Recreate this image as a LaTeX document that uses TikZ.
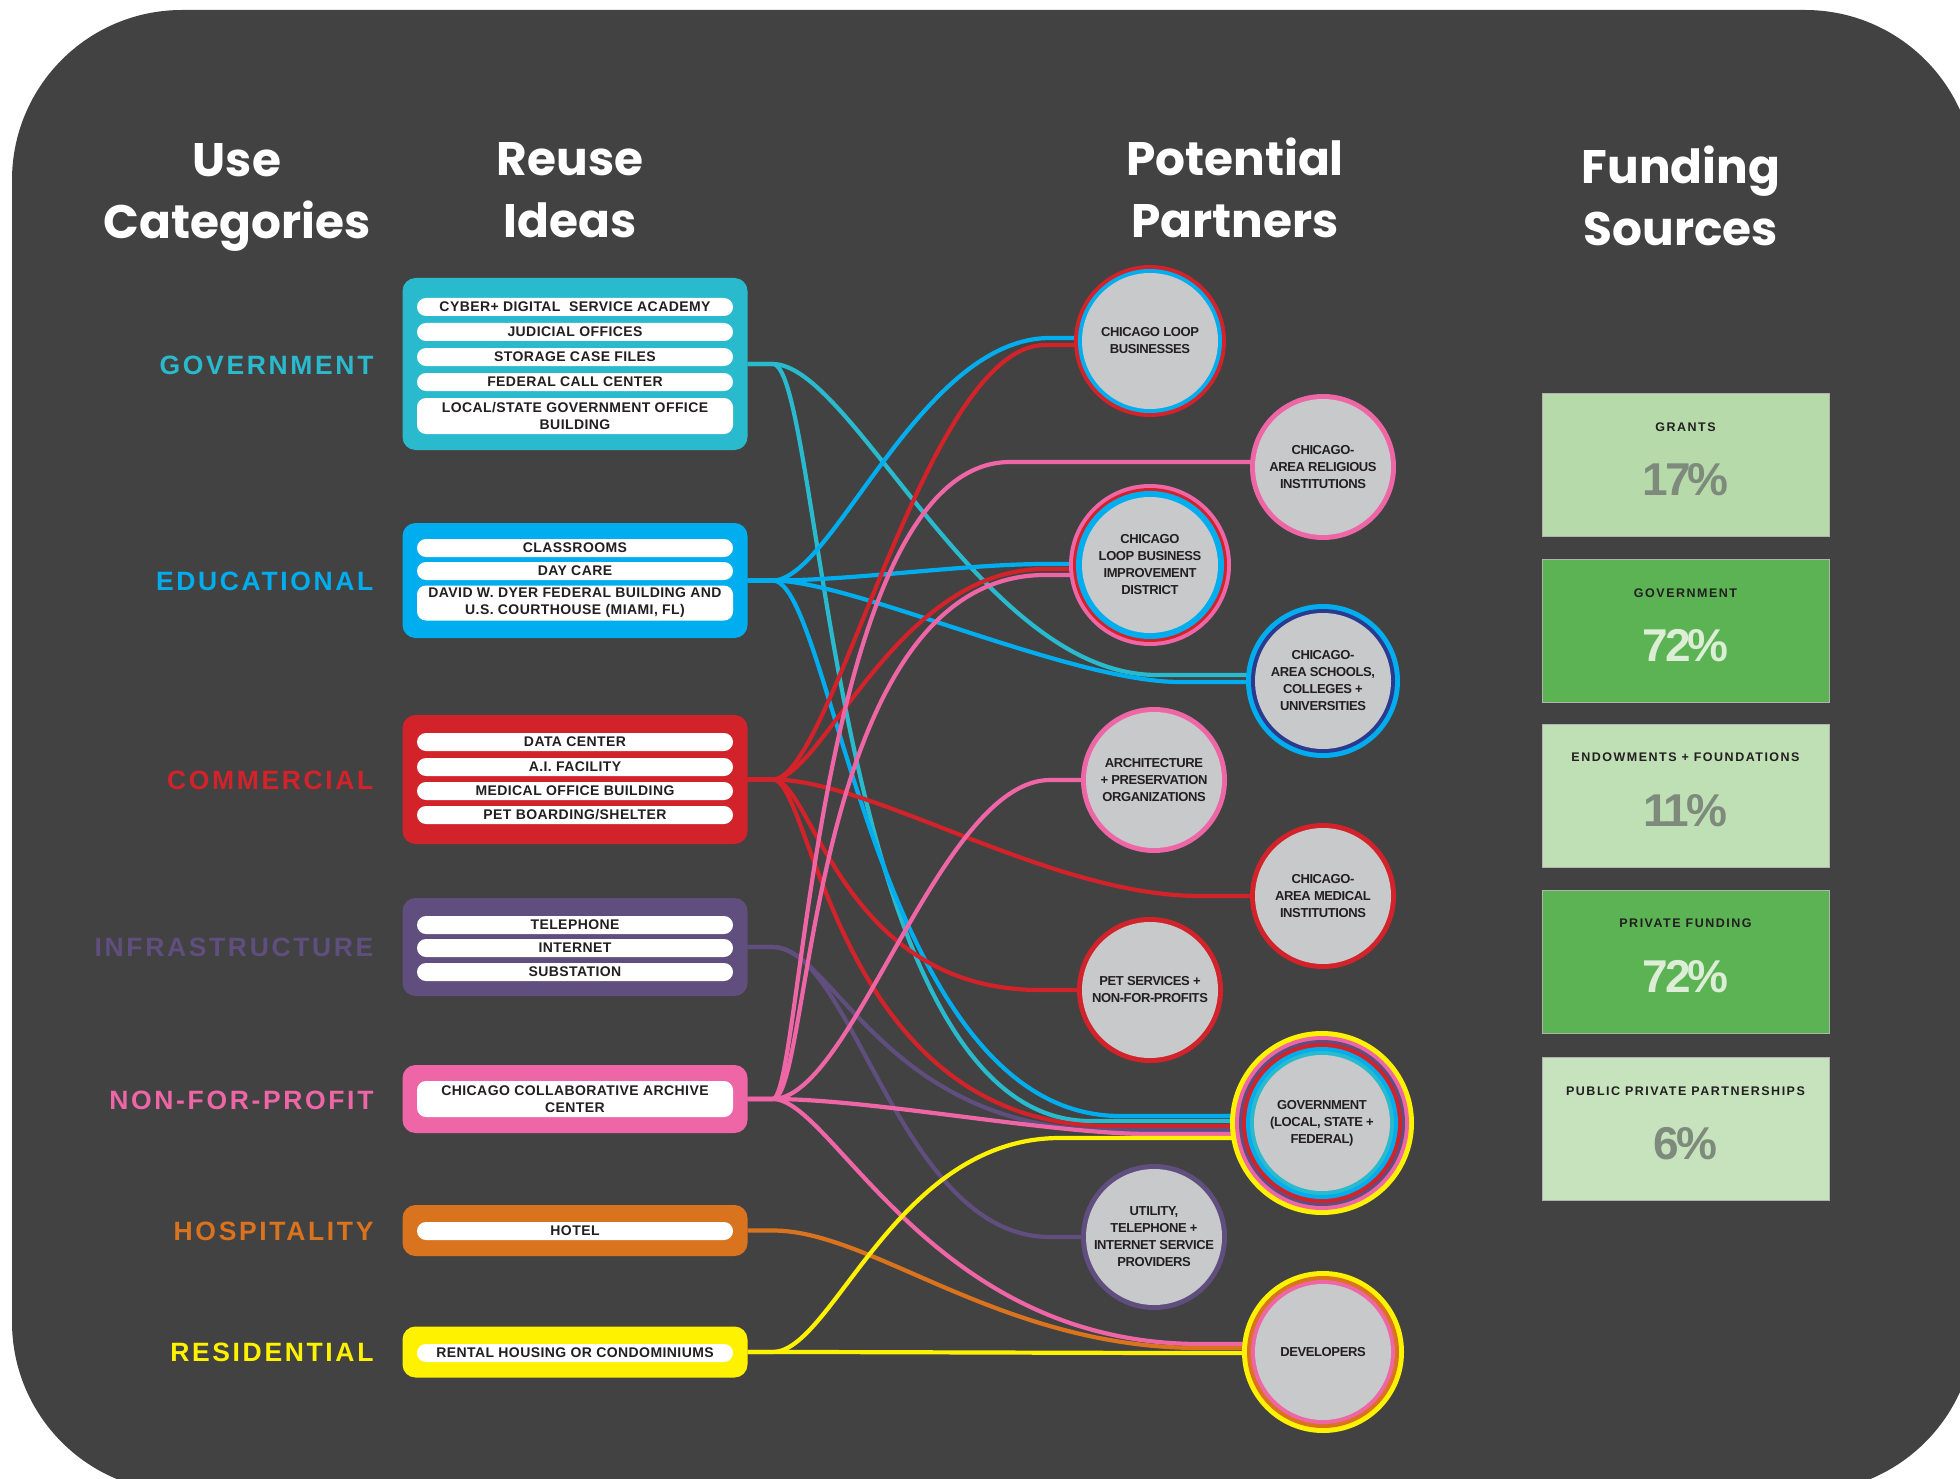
\documentclass[tikz,border=0pt]{standalone}
\usepackage{fontspec}
\setmainfont{Liberation Sans}
\newfontfamily\headfont{Poppins}
\newfontfamily\catfont[LetterSpace=10]{Liberation Sans}
\newfontfamily\pillfont[LetterSpace=3]{Liberation Sans}
\newfontfamily\partfont[LetterSpace=-3]{Liberation Sans}
\newfontfamily\fundfont[LetterSpace=12]{Liberation Sans}
\newfontfamily\pctfont[LetterSpace=-6]{Liberation Sans}
\usetikzlibrary{calc}
\definecolor{BgGray}{HTML}{424242}
\definecolor{cTeal}{HTML}{29BACD}
\definecolor{cBlue}{HTML}{00AEEF}
\definecolor{cRed}{HTML}{D2222A}
\definecolor{cPurple}{HTML}{604E7F}
\definecolor{cPink}{HTML}{EE66A6}
\definecolor{cOrange}{HTML}{DA731E}
\definecolor{cYellow}{HTML}{FFF200}
\definecolor{cNavy}{HTML}{2A3A8F}
\definecolor{DiscGray}{HTML}{C8C9CB}
\definecolor{InkDark}{HTML}{231F20}
\definecolor{fLightA}{HTML}{B6DAAA}
\definecolor{fLightB}{HTML}{BFDFB4}
\definecolor{fLightC}{HTML}{C7E3BE}
\definecolor{fGreen}{HTML}{5BB353}
\definecolor{pGray}{HTML}{7E8A7C}
\definecolor{pPale}{HTML}{DCEED6}
\pgfdeclarelayer{back}
\pgfdeclarelayer{links}
\pgfdeclarelayer{rings}
\pgfsetlayers{back,links,rings,main}

\begin{document}
\begin{tikzpicture}[x=1pt,y=-1pt,
    head/.style={font=\headfont\bfseries\fontsize{47}{62}\selectfont,text=white,align=center},
    cat/.style={anchor=east,font=\catfont\bfseries\fontsize{26.5}{28}\selectfont},
    usebox/.style={rounded corners=13pt,minimum width=345pt,inner sep=0pt},
    pill/.style={fill=white,rounded corners=9pt,minimum width=316pt,minimum height=18pt,inner sep=0pt,align=center,text=InkDark,font=\pillfont\bfseries\fontsize{14}{17}\selectfont},
    partner/.style={circle,fill=DiscGray,minimum size=136pt,inner sep=0pt,align=center,text=InkDark,font=\partfont\bfseries\fontsize{13}{17}\selectfont},
    fund/.style={minimum width=287pt,minimum height=143pt,inner sep=0pt,draw=black!30,line width=0.8pt},
    fundtitle/.style={font=\fundfont\bfseries\fontsize{12.5}{14}\selectfont,text=InkDark},
    pct/.style={font=\pctfont\bfseries\fontsize{46}{50}\selectfont},
    link/.style={line width=4.2pt}
  ]
    \useasboundingbox (0,0) rectangle (1960,1479);
    \begin{pgfonlayer}{back}
      \fill[white] (0,0) rectangle (1960,1479);
      \fill[BgGray,rounded corners=170pt] (12,10) rectangle (1975,1492);
    \end{pgfonlayer}

    \node[head] (hUse) at (237,197) {Use\\Categories};
    \node[head] (hReuse) at (570,190) {Reuse\\Ideas};
    \node[head] (hPartners) at (1235,188) {Potential\\Partners};
    \node[head] (hFunding) at (1681,196) {Funding\\Sources};

    \foreach \n/\y/\col/\t in {gov/365/cTeal/GOVERNMENT, edu/581/cBlue/EDUCATIONAL, com/780/cRed/COMMERCIAL, inf/947/cPurple/INFRASTRUCTURE, nfp/1100/cPink/NON-FOR-PROFIT, hos/1231/cOrange/HOSPITALITY, res/1352/cYellow/RESIDENTIAL}
      \node[cat,text=\col] (cat\n) at (377,\y) {\t};

    \foreach \n/\y/\h/\col in {govb/364/172/cTeal, edub/580.5/115/cBlue, comb/779.5/129/cRed, infb/947/98/cPurple, nfpb/1099/68/cPink, hosb/1230.5/51/cOrange, resb/1352/51/cYellow}
      \node[usebox,fill=\col,minimum height=\h pt] (\n) at (575,\y) {};

    \foreach \n/\y/\h/\t in {g1/307/18/{CYBER+ DIGITAL\ \ SERVICE ACADEMY}, g2/332/18/{JUDICIAL OFFICES}, g3/357/18/{STORAGE CASE FILES}, g4/382/18/{FEDERAL CALL CENTER}, g5/416/36/{LOCAL/STATE GOVERNMENT OFFICE\\BUILDING},
        e1/548/18/{CLASSROOMS}, e2/571/18/{DAY CARE}, e3/603/35/{DAVID W. DYER FEDERAL BUILDING AND\\U.S. COURTHOUSE (MIAMI, FL)},
        c1/742/18/{DATA CENTER}, c2/767/18/{A.I. FACILITY}, c3/791/18/{MEDICAL OFFICE BUILDING}, c4/815/18/{PET BOARDING/SHELTER},
        i1/925/18/{TELEPHONE}, i2/948/18/{INTERNET}, i3/972/18/{SUBSTATION},
        n1/1099/36/{CHICAGO COLLABORATIVE ARCHIVE\\CENTER}, h1/1231/18/{HOTEL}, r1/1353/18/{RENTAL HOUSING OR CONDOMINIUMS}}
      \node[pill,minimum height=\h pt] (\n) at (575,\y) {\t};

    \node[partner] (biz) at (1150,341) {CHICAGO LOOP\\BUSINESSES};
    \node[partner] (rel) at (1323,467) {CHICAGO-\\AREA RELIGIOUS\\INSTITUTIONS};
    \node[partner] (bid) at (1150,565) {CHICAGO\\LOOP BUSINESS\\IMPROVEMENT\\DISTRICT};
    \node[partner] (sch) at (1323,681) {CHICAGO-\\AREA SCHOOLS,\\COLLEGES +\\UNIVERSITIES};
    \node[partner] (arch) at (1154,780) {ARCHITECTURE\\+ PRESERVATION\\ORGANIZATIONS};
    \node[partner] (med) at (1323,896) {CHICAGO-\\AREA MEDICAL\\INSTITUTIONS};
    \node[partner] (pet) at (1150,990) {PET SERVICES +\\NON-FOR-PROFITS};
    \node[partner] (gov) at (1322,1123) {GOVERNMENT\\(LOCAL, STATE +\\FEDERAL)};
    \node[partner] (util) at (1154,1237) {UTILITY,\\TELEPHONE +\\INTERNET SERVICE\\PROVIDERS};
    \node[partner] (dev) at (1323,1352) {DEVELOPERS};

    \begin{pgfonlayer}{rings}
      \foreach \n/\rad/\col in {biz/76/cRed, biz/72/cBlue, rel/73/cPink, bid/81/cPink, bid/77/cRed, bid/74/cBlue, sch/77/cBlue, sch/72/cNavy, arch/73/cPink, med/73/cRed, pet/73/cRed,
          gov/92/cYellow, gov/87/cPink, gov/83/cPurple, gov/80/cRed, gov/76/cBlue, gov/72/cTeal, util/73/cPurple, dev/81/cYellow, dev/76/cOrange, dev/72/cPink}
        \fill[\col] (\n) circle[radius=\rad pt];
    \end{pgfonlayer}

    \begin{pgfonlayer}{links}
      \foreach \a/\b/\dy/\col/\off/\ca/\cb in {govb/sch/-6/cTeal/166/80/175, govb/gov/-2/cTeal/232/50/260,
          edub/biz/-3/cBlue/100/60/130, edub/bid/-1/cBlue/105/80/80, edub/sch/1/cBlue/143/80/110, edub/gov/-7/cBlue/202/60/245,
          comb/biz/4/cRed/105/60/120, comb/bid/4/cRed/105/50/150, comb/med/0/cRed/123/100/150, comb/pet/0/cRed/110/40/200, comb/gov/3/cRed/212/40/275,
          infb/gov/7/cPurple/212/60/225, infb/util/0/cPurple/104/80/150,
          nfpb/rel/-5/cPink/313/30/195, nfpb/bid/10/cPink/105/40/240, nfpb/arch/0/cPink/104/80/110, nfpb/gov/11/cPink/172/100/100, nfpb/dev/-8/cPink/123/60/270,
          hosb/dev/-4/cOrange/123/100/200, resb/gov/15/cYellow/262/60/165, resb/dev/1/cYellow/123/100/100}
        \draw[link,\col] (\a.east) -- ++(25,0) .. controls +(\ca,0) and +(-\cb,0) .. ($(\b)+(-\off,\dy)$) -- ($(\b)+(0,\dy)$);
    \end{pgfonlayer}

    \foreach \n/\y/\col/\t/\p/\pc in {grants/465/fLightA/GRANTS/17\%/pGray, govt/631/fGreen/GOVERNMENT/72\%/pPale, endow/795.5/fLightB/ENDOWMENTS + FOUNDATIONS/11\%/pGray, priv/961.5/fGreen/PRIVATE FUNDING/72\%/pPale, ppp/1129/fLightC/PUBLIC PRIVATE PARTNERSHIPS/6\%/pGray}
    {
      \node[fund,fill=\col] (\n) at (1685.5,\y) {};
      \node[fundtitle] (\n T) at ($(\n)+(0,-38)$) {\t};
      \node[pct,text=\pc] (\n P) at ($(\n)+(0,15)$) {\p};
    }
  \end{tikzpicture}
\end{document}
